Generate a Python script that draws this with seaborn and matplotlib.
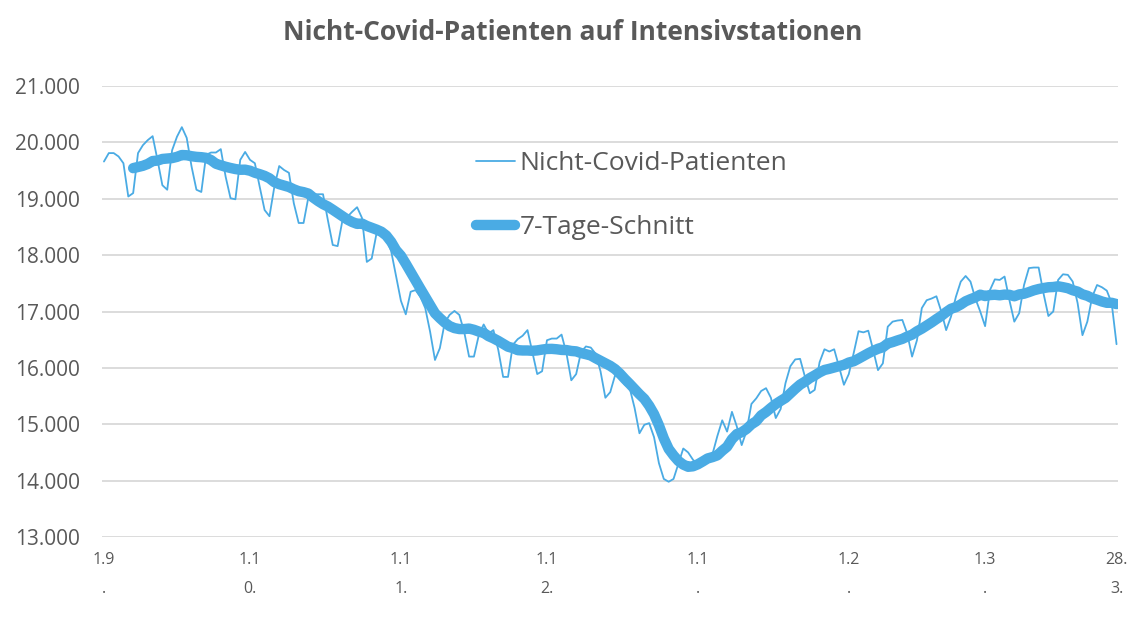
import numpy as np
import pandas as pd
import matplotlib
matplotlib.use("Agg")
import matplotlib.pyplot as plt
import seaborn as sns

# ---- data (daily, 1 Sep 2020 .. 28 Mar 2021) ----
start_date = "2020-09-01"
patients = [
    19660, 19810, 19810, 19750, 19630, 19040, 19100,
    19810, 19950, 20040, 20110, 19690, 19240, 19160,
    19860, 20100, 20270, 20080, 19570, 19160, 19120,
    19780, 19820, 19820, 19880, 19390, 19010, 18990,
    19690, 19830, 19690, 19630, 19210, 18800, 18690,
    19210, 19580, 19510, 19460, 18920, 18570, 18570,
    19030, 19080, 19080, 19080, 18620, 18180, 18160,
    18620, 18680, 18770, 18850, 18660, 17880, 17940,
    18390, 18410, 18300, 18070, 17630, 17190, 16950,
    17350, 17380, 17260, 17060, 16640, 16140, 16350,
    16800, 16940, 17010, 16940, 16640, 16200, 16200,
    16580, 16770, 16610, 16670, 16320, 15840, 15840,
    16410, 16510, 16570, 16670, 16280, 15890, 15940,
    16490, 16520, 16520, 16590, 16260, 15780, 15890,
    16280, 16380, 16360, 16250, 15940, 15470, 15570,
    15870, 15820, 15700, 15640, 15290, 14840, 14990,
    15020, 14770, 14310, 14030, 13980, 14030, 14300,
    14570, 14500, 14370, 14280, 14330, 14400, 14470,
    14790, 15070, 14870, 15220, 14960, 14630, 14880,
    15360, 15460, 15590, 15640, 15470, 15110, 15270,
    15730, 16030, 16150, 16160, 15840, 15550, 15610,
    16100, 16330, 16290, 16330, 16020, 15700, 15890,
    16260, 16650, 16630, 16660, 16320, 15960, 16080,
    16730, 16820, 16840, 16850, 16610, 16200, 16490,
    17060, 17200, 17230, 17270, 17000, 16670, 16910,
    17260, 17530, 17630, 17530, 17230, 17000, 16740,
    17380, 17570, 17560, 17620, 17200, 16820, 16970,
    17470, 17770, 17780, 17780, 17320, 16920, 17000,
    17560, 17660, 17650, 17530, 17150, 16580, 16820,
    17260, 17470, 17430, 17370, 17150, 16420,
]
tick_dates = ["2020-09-01", "2020-10-01", "2020-11-01", "2020-12-01",
              "2021-01-01", "2021-02-01", "2021-03-01", "2021-03-28"]
tick_labels = ["1.9\n.", "1.1\n0.", "1.1\n1.", "1.1\n2.",
               "1.1\n.", "1.2\n.", "1.3\n.", "28.\n3."]
y_ticks = [13000, 14000, 15000, 16000, 17000, 18000, 19000, 20000, 21000]
series_names = ["Nicht-Covid-Patienten", "7-Tage-Schnitt"]
title = "Nicht-Covid-Patienten auf Intensivstationen"

dates = pd.date_range(start_date, periods=len(patients), freq="D")
day = (dates - dates[0]).days
df = pd.DataFrame({"day": day, "raw": patients})
df["ma"] = df["raw"].rolling(7).mean()
tick_pos = [(pd.Timestamp(d) - dates[0]).days for d in tick_dates]

# ---- styling ----
sns.set_theme(style="white")
plt.rcParams["font.family"] = ["Open Sans", "DejaVu Sans"]
blue = "#4AABE4"
grey_txt = "#595959"

fig = plt.figure(figsize=(11.46, 6.32), dpi=100)
ax = fig.add_axes([102 / 1146, 1 - 537 / 632, (1118 - 102) / 1146, (537 - 86) / 632])

sns.lineplot(data=df, x="day", y="raw", ax=ax, color=blue, linewidth=1.3,
             label=series_names[0])
sns.lineplot(data=df.dropna(), x="day", y="ma", ax=ax, color=blue, linewidth=7.5,
             solid_capstyle="round", solid_joinstyle="round", label=series_names[1])

ax.set_xlim(-0.4, 208.3)
ax.set_ylim(13000, 21000)
ax.set_yticks(y_ticks)
ax.set_yticklabels([f"{v:,}".replace(",", ".") for v in y_ticks])
ax.set_xticks(tick_pos)
ax.set_xticklabels(tick_labels, linespacing=2.1)
ax.set_xlabel("")
ax.set_ylabel("")
ax.grid(axis="y", color="#D9D9D9", linewidth=1.3)
ax.grid(axis="x", visible=False)
for s in ax.spines.values():
    s.set_visible(False)
ax.tick_params(axis="y", length=0, pad=16, labelsize=15, labelcolor=grey_txt)
ax.tick_params(axis="x", length=0, pad=11, labelsize=11.5, labelcolor=grey_txt)

leg = ax.legend(loc="center left", bbox_to_anchor=(0.355, 0.757), frameon=False,
                fontsize=19, handlelength=1.5, handletextpad=0.15, borderpad=0,
                labelspacing=1.5, labelcolor=grey_txt)

fig.text(0.5, 1 - 32 / 632, title, ha="center", va="center",
         fontsize=19, fontweight="bold", color=grey_txt)

fig.savefig("out.png", dpi=100, facecolor="white")
